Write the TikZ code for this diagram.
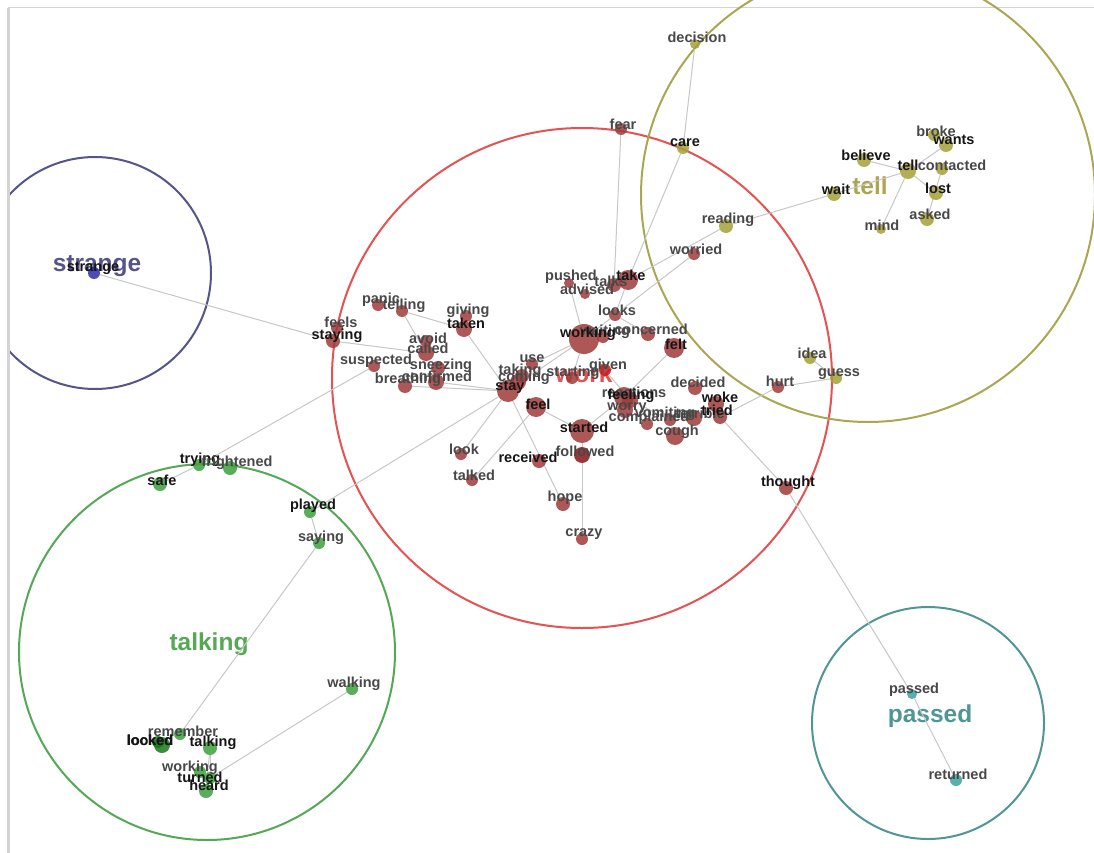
\documentclass[tikz,border=0pt]{standalone}
\usepackage{fontspec}
\setmainfont{Liberation Sans}
\pgfdeclarelayer{bg}
\pgfdeclarelayer{edges}
\pgfdeclarelayer{labels}
\pgfsetlayers{bg,edges,main,labels}

\definecolor{framegray}{RGB}{212,212,212}
\definecolor{edgegray}{RGB}{200,200,200}
\definecolor{labelgray}{RGB}{72,72,72}
\definecolor{labeldark}{RGB}{22,22,22}
\definecolor{nodered}{RGB}{160,58,58}
\definecolor{nodebright}{RGB}{185,35,35}
\definecolor{nodedeep}{RGB}{135,20,20}
\definecolor{nodeolive}{RGB}{165,160,55}
\definecolor{nodegreen}{RGB}{60,160,60}
\definecolor{nodedeepgreen}{RGB}{25,120,25}
\definecolor{nodenavy}{RGB}{45,45,170}
\definecolor{nodeteal}{RGB}{60,160,160}
\definecolor{ringred}{RGB}{228,82,82}
\definecolor{ringolive}{RGB}{172,166,82}
\definecolor{ringnavy}{RGB}{85,85,140}
\definecolor{ringgreen}{RGB}{85,168,85}
\definecolor{ringteal}{RGB}{80,150,150}

\tikzset{
  dot/.style={circle,inner sep=0pt,draw=none,fill opacity=0.85},
  rn/.style={dot,fill=nodered},
  rb/.style={dot,fill=nodebright},
  rd/.style={dot,fill=nodedeep},
  on/.style={dot,fill=nodeolive},
  gn/.style={dot,fill=nodegreen},
  gd/.style={dot,fill=nodedeepgreen},
  nn/.style={dot,fill=nodenavy},
  tn/.style={dot,fill=nodeteal},
  lg/.style={inner sep=0pt,text=labelgray,font=\fontsize{14.5}{15}\selectfont\bfseries},
  ld/.style={lg,text=labeldark},
  clusterlabel/.style={inner sep=0pt,font=\fontsize{24.5}{26}\selectfont\bfseries},
  link/.style={draw=edgegray,line width=1pt},
  ring/.style={line width=2pt},
}

% #1 dot style, #2 name, #3 x, #4 y, #5 diameter,
% #6 label style, #7 label dx, #8 label dy, #9 text
\newcommand\wordnode[9]{%
  \node[#1,minimum size=#5] (#2) at (#3,#4) {};
  \begin{pgfonlayer}{labels}
    \node[#6] (#2-lbl) at (#3+#7,#4+#8) {#9};
  \end{pgfonlayer}}

\begin{document}
\begin{tikzpicture}[x=1pt,y=-1pt]
\useasboundingbox (0,0) rectangle (1094,853);

\begin{pgfonlayer}{bg}
  \fill[white] (0,0) rectangle (1094,853);
  % panel frame
  \draw[framegray,line width=3pt] (8.5,8) -- (8.5,853);
  \draw[framegray,line width=1.2pt] (8,7.5) -- (1094,7.5);
  % cluster rings
  \begin{scope}
    \clip (10,-60) rectangle (1120,900);
    \draw[ring,ringred]   (582,378) circle[radius=250];
    \draw[ring,ringolive] (868,195) circle[radius=227];
    \draw[ring,ringnavy]  (95,273)  circle[radius=116];
    \draw[ring,ringgreen] (207,652) circle[radius=188];
    \draw[ring,ringteal]  (928,723) circle[radius=116];
  \end{scope}
  % cluster names
  \node[clusterlabel,text=ringnavy]  (c-strange) at (97,266)  {strange};
  \node[clusterlabel,text=ringred]   (c-work)    at (584,374) {work};
  \node[clusterlabel,text=ringolive] (c-tell)    at (870,186) {tell};
  \node[clusterlabel,text=ringgreen] (c-talking) at (209,644) {talking};
  \node[clusterlabel,text=ringteal]  (c-passed)  at (930,716) {passed};
\end{pgfonlayer}

% ---- work cluster ----
\wordnode{rn}{fear}{621}{129}{12}{lg}{2}{-5}{fear}
\wordnode{rn}{talks}{614}{285}{14}{lg}{-3}{-4}{talks}
\wordnode{rn}{take}{628}{280}{20}{ld}{3}{-5}{take}
\wordnode{rn}{pushed}{569}{283}{10}{lg}{2}{-6}{pushed}
\wordnode{rn}{advised}{585}{294}{10}{lg}{2}{-5}{advised}
\wordnode{rn}{looks}{615}{315}{12}{lg}{2}{-5}{looks}
\wordnode{rn}{waiting}{603}{337}{12}{lg}{2}{-5}{waiting}
\wordnode{rn}{working}{584}{339}{30}{ld}{4}{-5}{working}
\wordnode{rn}{concerned}{648}{334}{14}{lg}{3}{-5}{concerned}
\wordnode{rn}{felt}{674}{348}{20}{ld}{2}{-4}{felt}
\wordnode{rn}{use}{532}{364}{12}{lg}{0}{-5}{use}
\wordnode{rb}{given}{605}{370}{12}{lg}{3}{-4}{given}
\wordnode{rn}{starting}{572}{378}{12}{lg}{1}{-5}{starting}
\wordnode{rn}{taking}{522}{376}{14}{lg}{-2}{-5}{taking}
\wordnode{rn}{coming}{518}{382}{16}{lg}{6}{-4}{coming}
\wordnode{rn}{stay}{508}{391}{22}{ld}{2}{-4}{stay}
\wordnode{rn}{feel}{536}{407}{20}{ld}{2}{-3}{feel}
\wordnode{rn}{started}{582}{431}{24}{ld}{2}{-4}{started}
\wordnode{rn}{received}{539}{461}{14}{ld}{-11}{-4}{received}
\wordnode{rd}{followed}{582}{455}{16}{lg}{3}{-4}{followed}
\wordnode{rn}{look}{461}{454}{12}{lg}{3}{-5}{look}
\wordnode{rn}{talked}{472}{480}{12}{lg}{2}{-5}{talked}
\wordnode{rn}{hope}{563}{504}{14}{lg}{2}{-6}{hope}
\wordnode{rn}{crazy}{582}{539}{12}{lg}{2}{-5}{crazy}
\wordnode{rn}{reactions}{630}{400}{16}{lg}{4}{-8}{reactions}
\wordnode{rn}{feeling}{624}{397}{20}{ld}{7}{-1}{feeling}
\wordnode{rn}{worry}{625}{410}{16}{lg}{2}{-2}{worry}
\wordnode{rn}{complained}{647}{424}{12}{lg}{2}{-6}{complained}
\wordnode{rn}{vomiting}{670}{420}{12}{lg}{-5}{-6}{vomiting}
\wordnode{rn}{terrible}{694}{418}{16}{lg}{6}{-5}{terrible}
\wordnode{rn}{tried}{720}{417}{14}{ld}{-3}{-7}{tried}
\wordnode{rn}{woke}{716}{404}{16}{ld}{4}{-7}{woke}
\wordnode{rn}{decided}{695}{388}{14}{lg}{3}{-6}{decided}
\wordnode{rn}{cough}{675}{436}{18}{lg}{2}{-4}{cough}
\wordnode{rn}{hurt}{778}{387}{12}{lg}{2}{-6}{hurt}
\wordnode{rn}{thought}{786}{488}{14}{ld}{2}{-5}{thought}
\wordnode{rn}{worried}{694}{254}{12}{lg}{2}{-5}{worried}
\wordnode{rn}{panic}{378}{305}{12}{lg}{3}{-5}{panic}
\wordnode{rn}{telling}{402}{311}{12}{lg}{2}{-5}{telling}
\wordnode{rn}{giving}{466}{316}{12}{lg}{2}{-5}{giving}
\wordnode{rn}{taken}{464}{329}{16}{ld}{2}{-6}{taken}
\wordnode{rn}{feels}{337}{328}{12}{lg}{4}{-6}{feels}
\wordnode{rn}{staying}{333}{341}{14}{ld}{4}{-5}{staying}
\wordnode{rn}{avoid}{426}{341}{12}{lg}{2}{-3}{avoid}
\wordnode{rn}{called}{426}{353}{16}{lg}{2}{-5}{called}
\wordnode{rn}{suspected}{374}{366}{12}{lg}{2}{-5}{suspected}
\wordnode{rn}{sneezing}{438}{368}{14}{lg}{3}{-2}{sneezing}
\wordnode{rn}{confirmed}{436}{382}{16}{lg}{1}{-6}{confirmed}
\wordnode{rn}{breathing}{405}{386}{14}{lg}{3}{-6}{breathing}

% ---- tell cluster ----
\wordnode{on}{decision}{695}{44}{10}{lg}{2}{-7}{decision}
\wordnode{on}{care}{683}{148}{12}{ld}{2}{-5}{care}
\wordnode{on}{reading}{726}{226}{14}{lg}{2}{-6}{reading}
\wordnode{on}{wait}{834}{194}{14}{ld}{2}{-5}{wait}
\wordnode{on}{believe}{864}{160}{14}{ld}{2}{-5}{believe}
\wordnode{on}{contacted}{942}{169}{12}{lg}{10}{-4}{contacted}
\wordnode{on}{tell}{908}{171}{16}{ld}{0}{-6}{tell}
\wordnode{on}{broke}{934}{135}{12}{lg}{2}{-4}{broke}
\wordnode{on}{wants}{946}{145}{14}{ld}{8}{-5}{wants}
\wordnode{on}{lost}{936}{193}{14}{ld}{2}{-5}{lost}
\wordnode{on}{asked}{927}{219}{14}{lg}{3}{-5}{asked}
\wordnode{on}{mind}{881}{229}{10}{lg}{1}{-4}{mind}
\wordnode{on}{idea}{810}{358}{12}{lg}{2}{-5}{idea}
\wordnode{on}{guess}{836}{378}{12}{lg}{3}{-4}{guess}

% ---- strange cluster ----
\wordnode{nn}{strange}{94}{273}{12}{ld}{-1}{-5}{strange}

% ---- talking cluster ----
\wordnode{gn}{trying}{199}{465}{12}{ld}{1}{-5}{trying}
\wordnode{gn}{frightened}{230}{468}{14}{lg}{7}{-5}{frightened}
\wordnode{gn}{safe}{160}{484}{14}{ld}{2}{-4}{safe}
\wordnode{gn}{played}{310}{512}{12}{ld}{3}{-6}{played}
\wordnode{gn}{saying}{319}{543}{12}{lg}{2}{-5}{saying}
\wordnode{gn}{walking}{352}{689}{12}{lg}{2}{-5}{walking}
\wordnode{gn}{remember}{180}{734}{12}{lg}{3}{-3}{remember}
\wordnode{gd}{locked}{158}{742}{12}{ld}{-8}{-2}{locked}
\wordnode{gd}{looked}{162}{745}{16}{ld}{-12}{-5}{looked}
\wordnode{gn}{talkingw}{210}{748}{14}{ld}{3}{-5}{talking}
\wordnode{gn}{workingw}{200}{772}{12}{lg}{-10}{-4}{working}
\wordnode{gn}{turned}{210}{778}{12}{ld}{-10}{-1}{turned}
\wordnode{gn}{heard}{206}{791}{14}{ld}{3}{-6}{heard}

% ---- passed cluster ----
\wordnode{tn}{passed}{912}{694}{10}{lg}{2}{-4}{passed}
\wordnode{tn}{returned}{956}{780}{12}{lg}{2}{-6}{returned}

% ---- connectors ----
\begin{pgfonlayer}{edges}
  \foreach \a/\b in {
    strange/staying, staying/called, telling/taken, telling/called,
    taken/stay, breathing/stay, confirmed/stay, suspected/trying,
    trying/safe, stay/played, stay/look, stay/hope, stay/working,
    feel/talked, feel/started, started/feeling, started/followed,
    followed/crazy, working/pushed, working/looks, working/use,
    working/starting, looks/take, talks/fear, take/care, take/reading,
    looks/worried, looks/concerned, decision/care, reading/wait,
    wait/tell, believe/tell, tell/wants, tell/lost, tell/mind,
    contacted/asked, felt/feeling, given/reactions, feeling/vomiting,
    vomiting/terrible, tried/hurt, hurt/guess, guess/idea,
    tried/thought, thought/passed, passed/returned, played/saying,
    saying/remember, walking/turned, talkingw/heard, talkingw/turned}
    \draw[link] (\a) -- (\b);
\end{pgfonlayer}
\end{tikzpicture}
\end{document}
